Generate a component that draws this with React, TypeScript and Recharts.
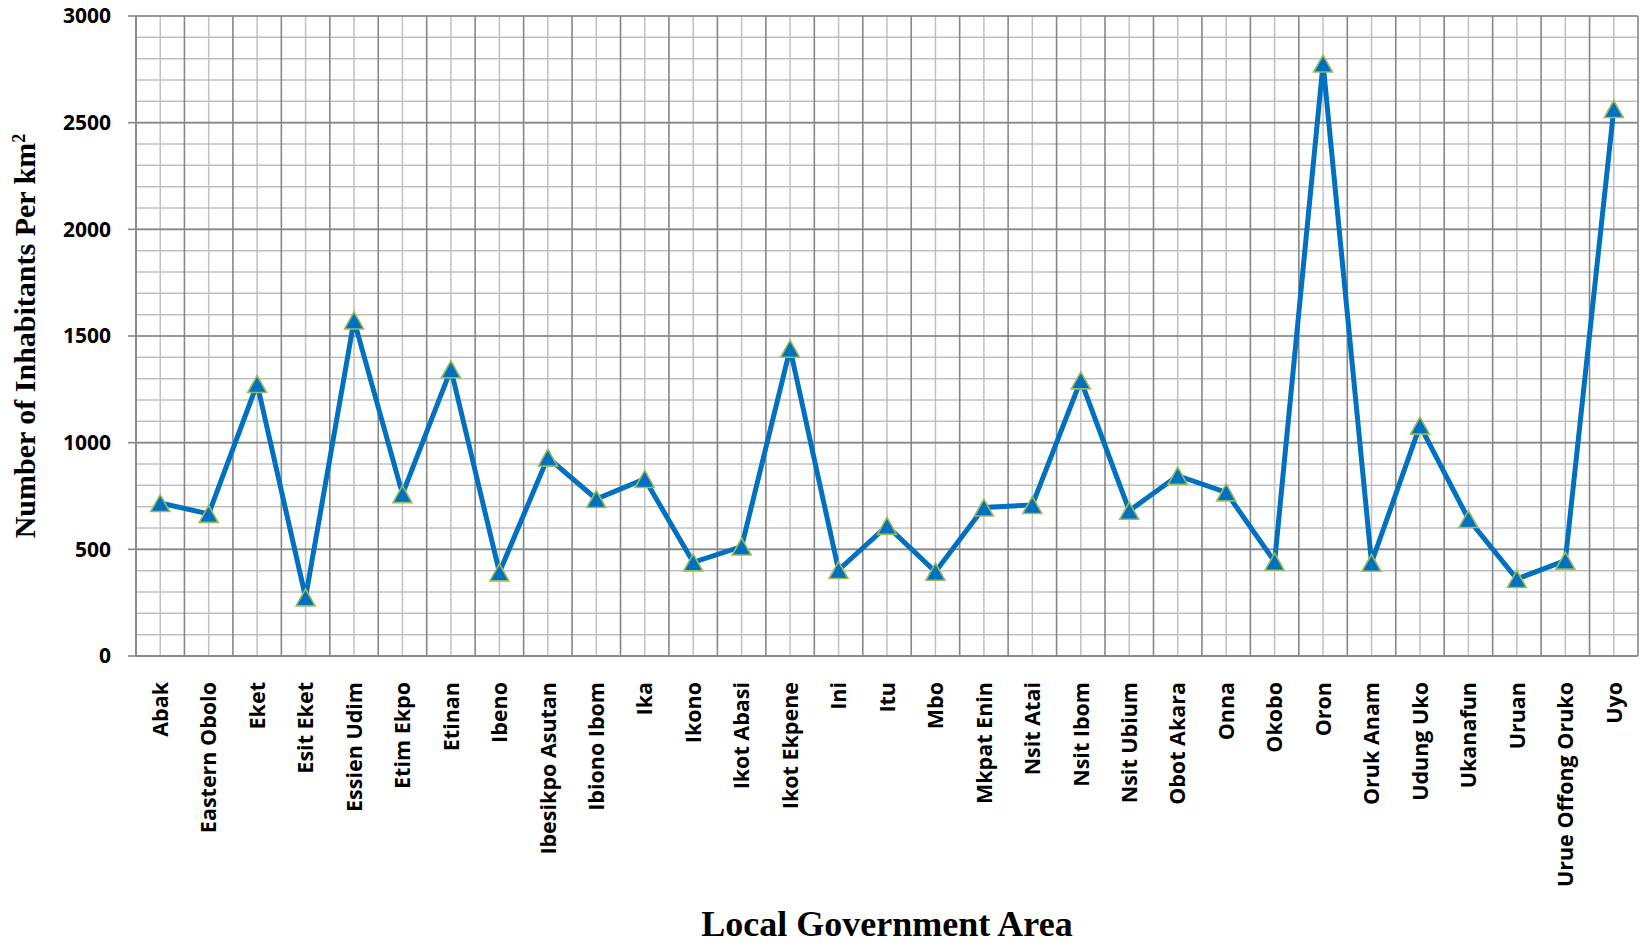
import React from 'react';
import { LineChart, Line, XAxis, YAxis, CartesianGrid } from 'recharts';

const lgas = [
  'Abak', 'Eastern Obolo', 'Eket', 'Esit Eket', 'Essien Udim', 'Etim Ekpo', 'Etinan', 'Ibeno',
  'Ibesikpo Asutan', 'Ibiono Ibom', 'Ika', 'Ikono', 'Ikot Abasi', 'Ikot Ekpene', 'Ini', 'Itu',
  'Mbo', 'Mkpat Enin', 'Nsit Atai', 'Nsit Ibom', 'Nsit Ubium', 'Obot Akara', 'Onna', 'Okobo',
  'Oron', 'Oruk Anam', 'Udung Uko', 'Ukanafun', 'Uruan', 'Urue Offong Oruko', 'Uyo',
];

const density = [
  717, 666, 1275, 275, 1573, 759, 1344, 392,
  930, 736, 830, 439, 513, 1440, 403, 610,
  395, 696, 708, 1292, 681, 845, 767, 442,
  2777, 437, 1080, 642, 361, 447, 2564,
];

const yTicks = [0, 500, 1000, 1500, 2000, 2500, 3000];
const yMinor = Array.from({ length: 31 }, (_, i) => i * 100);

const data = lgas.map((name, i) => ({ name, pos: i + 0.5, value: density[i] }));
const xCenters = lgas.map((_, i) => i + 0.5);
const xBounds = Array.from({ length: lgas.length + 1 }, (_, i) => i);

const TICK_FONT = '"Open Sans", Lato, sans-serif';
const TITLE_FONT = '"Liberation Serif", "Times New Roman", serif';

const XTick = (props: any) => {
  const { x, y, payload } = props;
  const i = Math.round(payload.value - 0.5);
  return (
    <text
      x={x}
      y={y}
      transform={`rotate(-90 ${x} ${y})`}
      textAnchor="end"
      dy="0.36em"
      fontFamily={TICK_FONT}
      fontWeight={700}
      fontSize={21.5}
      fill="#000"
    >
      {lgas[i]}
    </text>
  );
};

const Triangle = (props: any) => {
  const { cx, cy } = props;
  if (cx == null || cy == null) return null;
  const w = 19;
  const h = 17;
  const d = `M${cx},${cy - h / 2} L${cx + w / 2},${cy + h / 2} L${cx - w / 2},${cy + h / 2} Z`;
  return <path d={d} fill="#0070C0" stroke="#9BBB59" strokeWidth={1.6} />;
};

const YTitle = (props: any) => {
  const vb = props.viewBox || { x: 0, y: 16, width: 136, height: 640 };
  const cx = vb.x + 25;
  const cy = vb.y + vb.height / 2;
  return (
    <text
      x={cx}
      y={cy}
      transform={`rotate(-90 ${cx} ${cy})`}
      textAnchor="middle"
      dy="0.33em"
      fontFamily={TITLE_FONT}
      fontWeight={700}
      fontSize={30}
      fill="#000"
    >
      Number of Inhabitants Per km
      <tspan fontSize={18} dy="-0.55em">2</tspan>
    </text>
  );
};

const XTitle = (props: any) => {
  const vb = props.viewBox || { x: 136, y: 656, width: 1502, height: 290 };
  return (
    <text
      x={vb.x + vb.width / 2}
      y={vb.y + 280}
      textAnchor="middle"
      fontFamily={TITLE_FONT}
      fontWeight={700}
      fontSize={36}
      fill="#000"
    >
      Local Government Area
    </text>
  );
};

export default function App() {
  return (
    <div style={{ position: 'absolute', left: 0, top: 0, width: 1643, height: 946, background: '#fff' }}>
      <LineChart
        width={1643}
        height={946}
        data={data}
        margin={{ top: 16, right: 5, bottom: 0, left: 0 }}
      >
        <CartesianGrid
          stroke="#c0c0c0"
          strokeWidth={1.5}
          horizontalValues={yMinor}
          verticalValues={xCenters}
        />
        <CartesianGrid
          stroke="#878787"
          strokeWidth={1.6}
          horizontalValues={yTicks}
          verticalValues={xBounds}
        />
        <XAxis
          dataKey="pos"
          type="number"
          domain={[0, 31]}
          ticks={xCenters}
          interval={0}
          height={290}
          axisLine={{ stroke: '#878787', strokeWidth: 1.6 }}
          tickLine={false}
          tickSize={0}
          tickMargin={26}
          tick={<XTick />}
          label={<XTitle />}
        />
        <YAxis
          type="number"
          domain={[0, 3000]}
          ticks={yTicks}
          interval={0}
          width={136}
          axisLine={{ stroke: '#878787', strokeWidth: 1.6 }}
          tickLine={{ stroke: '#878787', strokeWidth: 1.6 }}
          tickSize={8}
          tickMargin={17}
          tick={{ fontFamily: TICK_FONT, fontWeight: 700, fontSize: 21, fill: '#000' }}
          label={<YTitle />}
        />
        <Line
          type="linear"
          dataKey="value"
          stroke="#0070C0"
          strokeWidth={5}
          dot={<Triangle />}
          activeDot={false}
          isAnimationActive={false}
        />
      </LineChart>
    </div>
  );
}
